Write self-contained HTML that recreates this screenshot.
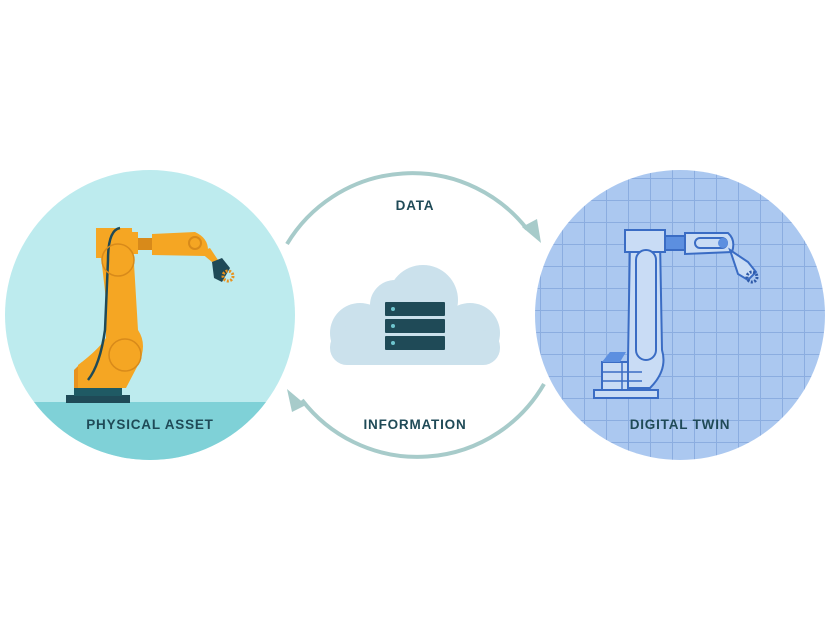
<!DOCTYPE html>
<html><head><meta charset="utf-8"><style>
html,body{margin:0;padding:0;background:#fff;}
svg{display:block;}
text{font-family:"Liberation Sans",sans-serif;font-weight:bold;fill:#1f4a57;letter-spacing:0.8px;}
</style></head><body>
<svg width="830" height="630" viewBox="0 0 830 630" xmlns="http://www.w3.org/2000/svg">
<defs>
<clipPath id="cl"><circle cx="150" cy="315" r="145"/></clipPath>
<pattern id="grid" x="540" y="178" width="22" height="22" patternUnits="userSpaceOnUse">
<rect width="22" height="22" fill="#abc8f0"/>
<path d="M0 0H22M0 0V22" stroke="#8badE0" stroke-width="2"/>
</pattern>
</defs>
<g clip-path="url(#cl)">
<rect x="0" y="160" width="300" height="310" fill="#bdebee"/>
<rect x="0" y="402" width="300" height="70" fill="#7fd1d7"/>
</g>
<rect x="66" y="395" width="64" height="8" fill="#1f4a57"/>
<rect x="74" y="388" width="48" height="8" fill="#1f5a64"/>
<path d="M74 370 L82 362 L100 362 L100 388 L74 388 Z" fill="#e8921e"/>
<path d="M78 388 L78 365 Q98 350 106 338 L106 300 L98 230 L132 230 L138 330 Q148 345 138 365 L126 388 Z" fill="#f5a623"/>
<rect x="96" y="228" width="36" height="30" fill="#f5a623"/>
<rect x="132" y="232" width="6" height="22" fill="#f5a623"/>
<rect x="138" y="238" width="16" height="12" fill="#d88a1a"/>
<path d="M152 234 L195 232 Q208 238 208 250 L205 256 L152 255 Z" fill="#f5a623"/>
<circle cx="195" cy="243" r="6" fill="none" stroke="#d88a1a" stroke-width="2"/>
<path d="M200 252 L212 262 L218 260 L210 248 Z" fill="#f5a623"/>
<path d="M212 262 L222 258 L230 268 L222 282 L214 278 Z" fill="#1f4a57"/>
<circle cx="228" cy="276" r="5" fill="none" stroke="#e8921e" stroke-width="3" stroke-dasharray="2 1.5"/>
<path d="M120 228 Q108 230 108 260 L105 330 Q100 365 88 380" fill="none" stroke="#1f4a57" stroke-width="2.5"/>
<circle cx="125" cy="355" r="16" fill="none" stroke="#d88a1a" stroke-width="1.5"/>
<circle cx="118" cy="260" r="16" fill="none" stroke="#d88a1a" stroke-width="1.5"/>
<text x="150" y="429" font-size="13.5" text-anchor="middle">PHYSICAL ASSET</text>

<circle cx="680" cy="315" r="145" fill="url(#grid)"/>
<g fill="#c9dcf5" stroke="#3a6cc4" stroke-width="2">
<rect x="594" y="390" width="64" height="8"/>
<rect x="602" y="362" width="40" height="28"/>
<path d="M628 360 L630 240 L660 240 L662 350 Q668 370 650 388 L628 388 Z"/>
<rect x="625" y="230" width="40" height="22"/>
<rect x="665" y="236" width="20" height="14" fill="#5c8fe0"/>
<path d="M685 233 L728 233 Q736 240 732 252 L685 254 Z"/>
<rect x="695" y="238" width="32" height="10" rx="5"/>
<path d="M730 250 L748 262 L756 272 L748 280 L738 274 Z"/>
<rect x="636" y="250" width="20" height="110" rx="10"/>
</g>
<circle cx="723" cy="243" r="5" fill="#5c8fe0"/>
<circle cx="752" cy="277" r="5" fill="none" stroke="#2e5aa8" stroke-width="3" stroke-dasharray="2 1.5"/>
<path d="M602 362 L610 352 L626 352 L620 362 Z" fill="#5c8fe0"/>
<path d="M602 372 H642 M602 381 H642 M622 362 V390" stroke="#3a6cc4" stroke-width="1.5"/>
<text x="680" y="429" font-size="13.5" text-anchor="middle">DIGITAL TWIN</text>

<path d="M287 244 A146 146 0 0 1 527 229" fill="none" stroke="#a7cbca" stroke-width="4"/>
<path d="M522 227 L541 243 L537 219 Z" fill="#a7cbca"/>
<path d="M544 384 A146 146 0 0 1 302 400" fill="none" stroke="#a7cbca" stroke-width="4"/>
<path d="M306 405 L287 389 L292 412 Z" fill="#a7cbca"/>
<text x="415" y="210" font-size="13.5" text-anchor="middle">DATA</text>
<text x="415" y="429" font-size="13.5" text-anchor="middle">INFORMATION</text>

<g fill="#cbe1ec">
<circle cx="395" cy="305" r="25"/>
<circle cx="423" cy="300" r="35"/>
<circle cx="360" cy="333" r="30"/>
<circle cx="470" cy="333" r="30"/>
<rect x="340" y="320" width="140" height="45" rx="20"/>
<rect x="330" y="330" width="170" height="35" rx="17"/>
</g>
<g fill="#1f4a57">
<rect x="385" y="302" width="60" height="14" rx="1"/>
<rect x="385" y="319" width="60" height="14" rx="1"/>
<rect x="385" y="336" width="60" height="14" rx="1"/>
</g>
<g fill="#6fc6cf">
<circle cx="393" cy="309" r="2"/><circle cx="393" cy="326" r="2"/><circle cx="393" cy="343" r="2"/>
</g>
</svg>
</body></html>
